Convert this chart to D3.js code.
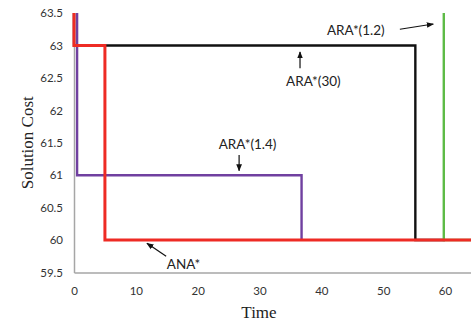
<!DOCTYPE html>
<html>
<head>
<meta charset="utf-8">
<script src="https://cdn.jsdelivr.net/npm/d3@7"></script>
<style>
  body { margin: 0; background: #fff; }
  svg { display: block; }
  .tick text { font-family: Lato, "Open Sans", sans-serif; font-size: 11.5px; fill: #333; }
  .note { font-family: Lato, "Open Sans", sans-serif; font-size: 13.5px; fill: #222; }
  .title { font-family: "Liberation Serif", "DejaVu Serif", serif; font-size: 17px; fill: #222; }
</style>
</head>
<body>
<svg width="471" height="326"></svg>
<script>
// step series: [time, solution cost]
const ara30 = [[0, 63.5], [0, 63], [55.2, 63], [55.2, 60], [60, 60]];
const ara12 = [[59.8, 63.5], [59.8, 60], [64.2, 60]];
const ara14 = [[0.5, 63.5], [0.5, 61], [36.8, 61], [36.8, 60]];
const ana   = [[0, 63.5], [0, 63], [5, 63], [5, 60], [64.2, 60]];

const xTicks = [0, 10, 20, 30, 40, 50, 60];
const yTicks = [59.5, 60, 60.5, 61, 61.5, 62, 62.5, 63, 63.5];

const seriesNames = ["ARA*(30)", "ARA*(1.2)", "ARA*(1.4)", "ANA*"];
const seriesColors = ["#111111", "#5dbb46", "#7040a0", "#ee2b24"];
const seriesWidths = [2.4, 2.4, 2.4, 3];

// annotation text + arrow (in data units)
const notes = [
  { text: "ARA*(1.2)", tx: 40.9, ty: 63.23, ax1: 52.7, ay1: 63.25, ax2: 58.1, ay2: 63.33 },
  { text: "ARA*(30)",  tx: 34.3, ty: 62.44, ax1: 36.55, ay1: 62.65, ax2: 36.55, ay2: 62.9 },
  { text: "ARA*(1.4)", tx: 23.4, ty: 61.47, ax1: 26.7, ay1: 61.31, ax2: 26.7, ay2: 61.07 },
  { text: "ANA*",      tx: 15.0, ty: 59.62, ax1: 14.9, ay1: 59.75, ax2: 11.8, ay2: 59.95 }
];

const svg = d3.select("svg");
const x = d3.scaleLinear().domain([0, 64.2]).range([74, 471]);
const y = d3.scaleLinear().domain([59.5, 63.5]).range([272.5, 13]);

svg.append("defs").append("marker")
   .attr("id", "head")
   .attr("viewBox", "0 0 10 10")
   .attr("refX", 9).attr("refY", 5)
   .attr("markerWidth", 6).attr("markerHeight", 6)
   .attr("orient", "auto")
   .append("path")
   .attr("d", "M0,1 L10,5 L0,9 Z")
   .attr("fill", "#111");

// axes
const yAxis = svg.append("g")
   .attr("transform", `translate(${x(0)},0)`)
   .call(d3.axisLeft(y).tickValues(yTicks).tickSize(0).tickPadding(11)
         .tickFormat(d3.format("")));
const xAxis = svg.append("g")
   .attr("transform", `translate(0,${y(59.5)})`)
   .call(d3.axisBottom(x).tickValues(xTicks).tickSize(0).tickPadding(14));
[xAxis, yAxis].forEach(a => a.select(".domain").attr("stroke", "#a6a6a6").attr("stroke-width", 1.5));

// series
const line = d3.line().x(d => x(d[0])).y(d => y(d[1]));
[ara30, ara12, ara14, ana].forEach((s, i) => {
  svg.append("path")
     .datum(s)
     .attr("d", line)
     .attr("fill", "none")
     .attr("stroke", seriesColors[i])
     .attr("stroke-width", seriesWidths[i])
     .attr("stroke-linejoin", "miter")
     .attr("class", "series")
     .attr("data-name", seriesNames[i]);
});

// annotations
notes.forEach(n => {
  svg.append("text").attr("class", "note")
     .attr("x", x(n.tx)).attr("y", y(n.ty))
     .attr("dy", "0.35em")
     .text(n.text);
  svg.append("line")
     .attr("x1", x(n.ax1)).attr("y1", y(n.ay1))
     .attr("x2", x(n.ax2)).attr("y2", y(n.ay2))
     .attr("stroke", "#111").attr("stroke-width", 1.2)
     .attr("marker-end", "url(#head)");
});

// axis titles
svg.append("text").attr("class", "title")
   .attr("transform", `translate(27,${(y(59.5) + y(63.5)) / 2}) rotate(-90)`)
   .attr("text-anchor", "middle")
   .attr("dy", "0.35em")
   .text("Solution Cost");
svg.append("text").attr("class", "title")
   .attr("x", 259).attr("y", 318)
   .attr("text-anchor", "middle")
   .text("Time");
</script>
</body>
</html>
